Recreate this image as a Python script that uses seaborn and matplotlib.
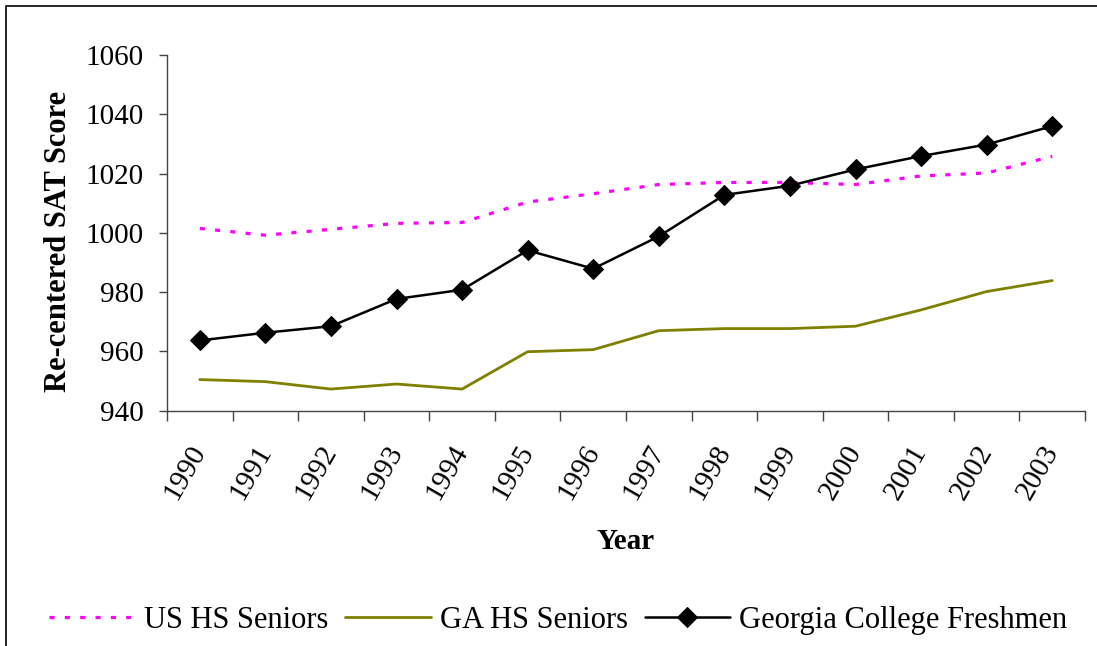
import numpy as np
import pandas as pd
import seaborn as sns
import matplotlib.pyplot as plt
from matplotlib.patches import Rectangle
from matplotlib.ticker import FixedLocator
from matplotlib.transforms import ScaledTranslation

sns.set_style("ticks")
plt.rcParams["font.family"] = ["Liberation Serif", "DejaVu Serif"]
plt.rcParams["text.color"] = "black"
plt.rcParams["xtick.labelcolor"] = "black"
plt.rcParams["ytick.labelcolor"] = "black"
plt.rcParams["axes.labelcolor"] = "black"

# ============================================
# DATA
# ============================================
years = [1990, 1991, 1992, 1993, 1994, 1995, 1996,
         1997, 1998, 1999, 2000, 2001, 2002, 2003]
us_hs = [1001.5, 999.2, 1001.2, 1003.2, 1003.5, 1010.4, 1013.2,
         1016.3, 1017.0, 1017.0, 1016.3, 1019.2, 1020.2, 1025.8]
ga_hs = [950.5, 949.8, 947.3, 949.0, 947.3, 959.9, 960.6,
         967.0, 967.7, 967.7, 968.5, 974.0, 980.2, 983.9]
gc_fresh = [963.7, 966.3, 968.5, 977.7, 980.8, 994.1, 987.9,
            998.8, 1012.8, 1015.9, 1021.4, 1025.9, 1029.8, 1036.0]

df = pd.DataFrame({"pos": np.arange(len(years)), "year": years,
                   "us": us_hs, "ga": ga_hs, "gc": gc_fresh})

# ============================================
# PLOT
# ============================================
fig = plt.figure(figsize=(10.97, 6.46), dpi=100)
ax = fig.add_axes([167 / 1097, 1 - 410.7 / 646, 918 / 1097, 355.7 / 646])

sns.lineplot(data=df, x="pos", y="us", ax=ax, color="#FF00FF", lw=2.3,
             linestyle=(0, (1.6, 3.2)), label="US HS Seniors")
sns.lineplot(data=df, x="pos", y="ga", ax=ax, color="#808000", lw=2.0,
             label="GA HS Seniors")
sns.lineplot(data=df, x="pos", y="gc", ax=ax, color="black", lw=1.8,
             marker="D", markersize=10.5, markeredgecolor="black",
             label="Georgia College Freshmen")

ax.set_xlim(-0.5, len(years) - 0.5)
ax.set_ylim(940, 1060)
ax.set_yticks(np.arange(940, 1061, 20))
ax.set_xticks(df["pos"])
ax.set_xticklabels(years, rotation=60, ha="right", va="center",
                   rotation_mode="anchor")
shift = ScaledTranslation(-10 / 100, 0, fig.dpi_scale_trans)
for lbl in ax.get_xticklabels():
    lbl.set_transform(lbl.get_transform() + shift)
ax.xaxis.set_minor_locator(FixedLocator(np.arange(-0.5, len(years), 1)))
ax.tick_params(axis="x", which="major", length=0, pad=26, labelsize=21)
ax.tick_params(axis="x", which="minor", length=7, width=1, color="#444444")
ax.tick_params(axis="y", length=6, width=1, color="#444444", labelsize=21, pad=11)

sns.despine(ax=ax)
for s in ["left", "bottom"]:
    ax.spines[s].set_color("#444444")
    ax.spines[s].set_linewidth(1)

ax.set_xlabel("Year", fontsize=21, fontweight="bold")
ax.xaxis.set_label_coords(0.5, -0.33)
ax.set_ylabel("Re-centered SAT Score", fontsize=22, fontweight="bold")
ax.yaxis.set_label_coords(-0.102, 0.476)

ax.legend(loc="center", bbox_to_anchor=(0.509, 0.04), bbox_transform=fig.transFigure,
          ncol=3, frameon=False, fontsize=22, handlelength=2.8,
          handletextpad=0.3, columnspacing=0.55)

fig.patches.append(Rectangle((5.5 / 1097, -0.1), 1.2, 1.1 - 6 / 646,
                             transform=fig.transFigure, fill=False,
                             edgecolor="black", lw=1.2))

plt.savefig("out.png", dpi=100)
plt.close()
